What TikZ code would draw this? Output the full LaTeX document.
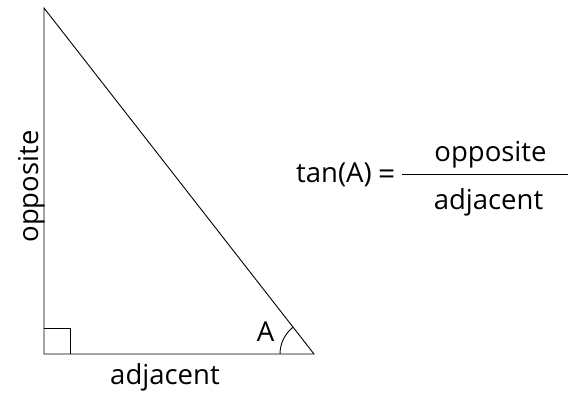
\documentclass[tikz,border=0pt]{standalone}
\usepackage{fontspec}
\setmainfont{Open Sans}
\begin{document}
\begin{tikzpicture}[x=1pt,y=1pt,
  edge/.style={draw=black,line width=0.9pt},
  lbl/.style={font=\fontsize{27.5}{30}\selectfont,inner sep=0pt}]
\useasboundingbox (0,0) rectangle (568,396);
\coordinate (T) at (44,388);
\coordinate (C) at (44,42);
\coordinate (B) at (314,42);
\draw[edge] (T) -- (C) -- (B) -- cycle;
\draw[edge] (C) ++(0,26) -| ++(26,-26);
\draw[edge] (B) ++(180:34) arc[start angle=180,end angle=128,radius=34];
\node[lbl,anchor=base] (A) at (265.5,54) {A};
\node[lbl,rotate=90,anchor=base] (opp) at (38,209.5) {opposite};
\node[lbl,anchor=base] (adj) at (165,11) {adjacent};
\node[lbl,anchor=base west] (tan) at (296,213) {tan(A)};
\node[lbl,anchor=base west,font=\fontsize{30}{32}\selectfont] (eq) at (378,211) {=};
\draw[edge] (402,222) coordinate (f1) -- (568,222) coordinate (f2);
\node[lbl,anchor=base] (num) at (490.5,234) {opposite};
\node[lbl,anchor=base] (den) at (488.5,186) {adjacent};
\end{tikzpicture}
\end{document}
